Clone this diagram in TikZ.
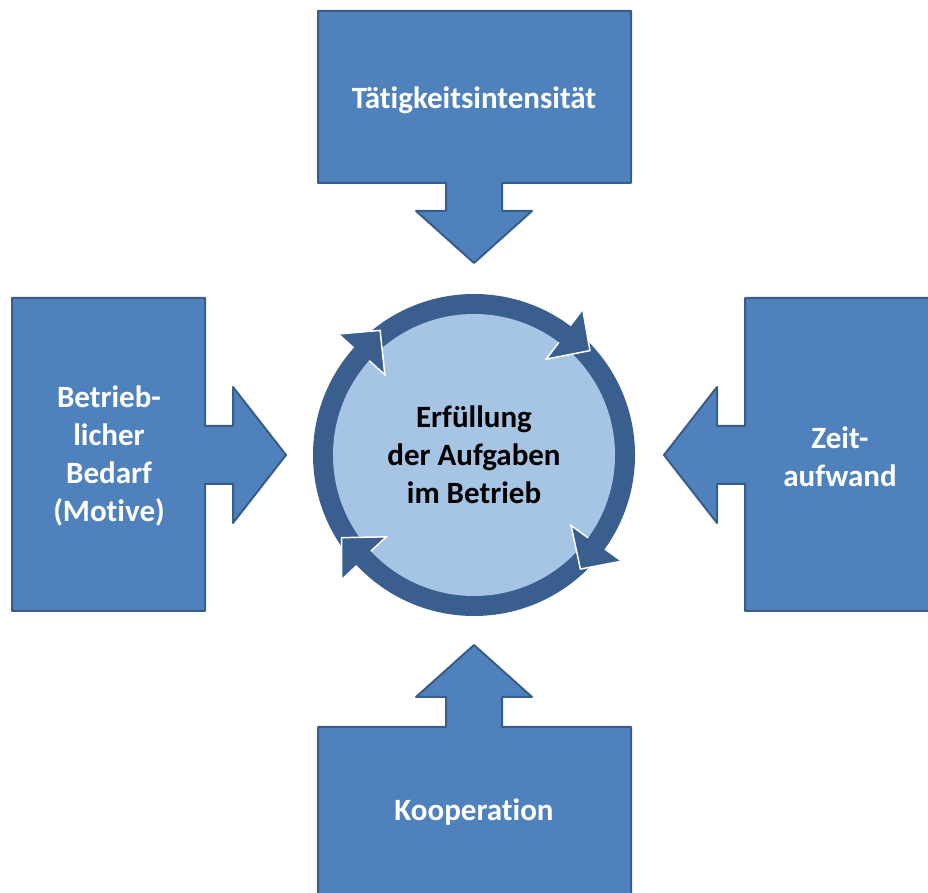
\documentclass[tikz,border=0pt]{standalone}
\usepackage{fontspec}
\setmainfont{Carlito}[Ligatures={CommonOff,ContextualOff,RareOff},RawFeature={-liga;-clig;-calt;-dlig}]
\definecolor{boxfill}{HTML}{4F81BD}
\definecolor{boxline}{HTML}{385D8A}
\definecolor{ringcol}{HTML}{3A5F8E}
\definecolor{lightcol}{HTML}{A6C4E3}
\begin{document}
\begin{tikzpicture}[x=1pt,y=1pt,
  callout/.style={fill=boxfill,draw=boxline,line width=2pt,line join=round},
  lbl/.style={text=white,font=\fontsize{31}{38}\selectfont\bfseries,align=center,inner sep=0pt}]
\useasboundingbox (0,0) rectangle (928,893);
% top callout
\draw[callout] (318,882) -- (631,882) -- (631,710) -- (502,710) -- (502,682) -- (532,682)
  -- (474,630) -- (416,682) -- (446,682) -- (446,710) -- (318,710) -- cycle;
% left callout
\draw[callout] (12,595) -- (205,595) -- (205,467) -- (233,467) -- (233,506) -- (286,438)
  -- (233,370) -- (233,409) -- (205,409) -- (205,282) -- (12,282) -- cycle;
% right callout
\draw[callout] (938,595) -- (745,595) -- (745,467) -- (717,467) -- (717,506) -- (664,438)
  -- (717,370) -- (717,409) -- (745,409) -- (745,282) -- (938,282) -- cycle;
% bottom callout
\draw[callout] (318,-8) -- (318,166) -- (446,166) -- (446,196) -- (416,196) -- (474,248)
  -- (532,196) -- (502,196) -- (502,166) -- (631,166) -- (631,-8) -- cycle;
% cycle ring
\fill[ringcol] (474,438) circle (161);
\fill[lightcol] (474,438) circle (141);
\begin{scope}[shift={(474,438)}]
\foreach \t in {127,42,-47,212}{
  \fill[ringcol] (\t+11:181) -- (\t:156) -- (\t+11:120) -- cycle;
  \draw[white,line width=1.5pt,line join=miter] (\t+11:181) -- (\t:156) -- (\t+11:120) -- (\t+11:141);
}
\end{scope}
% labels
\node[lbl] (top) at (474,793) {Tätigkeitsintensität};
\node[lbl] (left) at (109,437) {Betrieb-\\licher\\Bedarf\\(Motive)};
\node[lbl] (right) at (840,436) {Zeit-\\aufwand};
\node[lbl] (bottom) at (474,81) {Kooperation};
\node[lbl,text=black] (center) at (474,438) {Erfüllung\\der Aufgaben\\im Betrieb};
\end{tikzpicture}
\end{document}
